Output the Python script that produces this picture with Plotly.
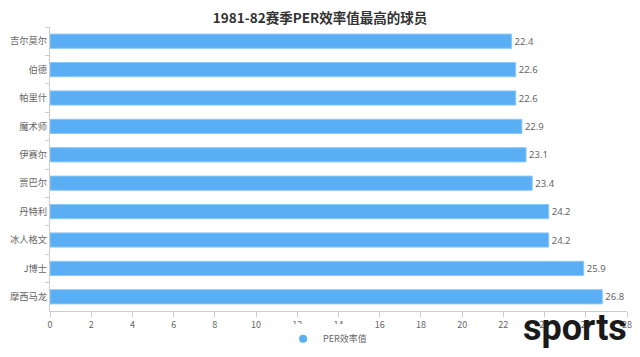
import plotly.graph_objects as go

players = ["吉尔莫尔", "伯德", "帕里什", "魔术师", "伊赛尔", "贾巴尔", "丹特利", "冰人格文", "J博士", "摩西马龙"]
per_values = [22.4, 22.6, 22.6, 22.9, 23.1, 23.4, 24.2, 24.2, 25.9, 26.8]
x_ticks = list(range(0, 29, 2))
series_name = "PER效率值"
title_text = "1981-82赛季PER效率值最高的球员"

bar_color = "#5AAEF3"
grey = "#666666"
font_family = "Noto Sans CJK SC, sans-serif"

fig = go.Figure()
fig.add_trace(go.Bar(
    x=per_values, y=players, orientation="h",
    marker=dict(color=bar_color, line=dict(color="#8CC8F7", width=1)),
    text=[f"{v}" for v in per_values], textposition="outside",
    textfont=dict(color=grey, size=9.5, family="Noto Sans, sans-serif"),
    cliponaxis=False, showlegend=False, name=series_name,
))
fig.add_trace(go.Scatter(
    x=[None], y=[None], mode="markers", name=series_name,
    marker=dict(color=bar_color, size=8, symbol="circle"), showlegend=True,
))

fig.update_layout(
    width=640, height=357,
    margin=dict(l=42, r=21, t=19, b=52),
    paper_bgcolor="white", plot_bgcolor="white",
    font=dict(family=font_family, color=grey, size=10),
    title=dict(text=f"<b>{title_text}</b>", x=0.4875, xanchor="center", y=0.972, yanchor="middle",
               font=dict(size=13.5, color="#333333", family=font_family)),
    bargap=0.5,
    showlegend=True,
    legend=dict(orientation="h", x=0.404, xanchor="left", y=-0.098, yanchor="middle",
                font=dict(size=9, color=grey), itemwidth=30),
    annotations=[dict(text="<b>sports</b>", x=1.003, xref="paper", xanchor="right",
                      y=0.02, yref="paper", yanchor="top", showarrow=False,
                      font=dict(size=36, color="#1a1a1a", family="Roboto, sans-serif"))],
)
fig.update_xaxes(range=[0, 28], tickvals=x_ticks, showgrid=False, zeroline=False,
                 showline=True, linecolor="#cccccc", ticks="outside", tickcolor="#cccccc",
                 ticklen=5, tickfont=dict(size=9, color=grey), automargin=False)
fig.update_yaxes(autorange="reversed", showgrid=False, showline=True, linecolor="#cccccc",
                 ticks="outside", tickcolor="#cccccc", ticklen=4, tickson="boundaries",
                 tickfont=dict(size=9.3, color=grey), automargin=False)

fig.write_html("out.html")
